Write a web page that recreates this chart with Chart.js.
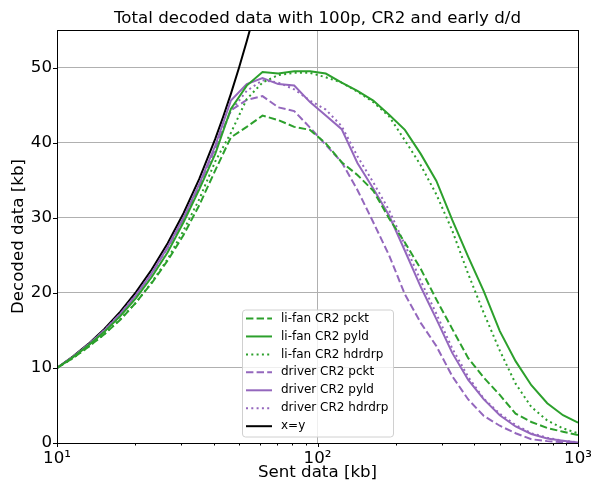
<!DOCTYPE html>
<html><head><meta charset="utf-8">
<script src="https://cdn.jsdelivr.net/npm/chart.js@4.4.0/dist/chart.umd.min.js"></script>
<style>html,body{margin:0;padding:0;background:#fff}</style>
</head><body>
<canvas id="c" width="591" height="484" style="width:591px;height:484px;display:block"></canvas>
<script>
// ---- data ----
const sent = [10, 11.5, 13.2, 15.2, 17.5, 20.1, 23.1, 26.6, 30.6, 35.2, 40.5, 46.5, 53.5, 61.5, 70.7, 81.4, 93.6, 107.6, 123.8, 142.3, 163.7, 188.3, 216.5, 249, 286, 329, 379, 435, 501, 576, 662, 762, 876, 1000];
const lifanPckt = [10, 11.3, 12.8, 14.5, 16.4, 18.7, 21.3, 24.3, 27.7, 31.7, 36.3, 40.7, 42.1, 43.6, 43.0, 42.1, 41.7, 39.9, 37.4, 35.7, 33.6, 29.9, 26.7, 23.2, 19.1, 15.2, 11.3, 8.7, 6.4, 3.9, 2.8, 2.0, 1.5, 1.06];
const lifanPyld = [10, 11.4, 13.0, 14.8, 16.9, 19.3, 22.1, 25.4, 29.4, 33.8, 38.5, 44.5, 47.6, 49.4, 49.2, 49.5, 49.5, 49.2, 48.0, 46.9, 45.6, 43.7, 41.7, 38.5, 34.9, 29.7, 24.8, 20.2, 14.9, 10.9, 7.7, 5.3, 3.7, 2.7];
const lifanHdrdrp = [10, 11.3, 12.8, 14.5, 16.5, 18.7, 21.4, 24.5, 28.3, 32.5, 37.5, 41.3, 45.8, 48.0, 49.0, 49.3, 49.3, 48.7, 48.0, 46.8, 45.4, 43.5, 40.3, 37.0, 33.1, 28.3, 22.5, 17.3, 12.3, 7.9, 4.8, 3.0, 1.95, 1.3];
const driverPckt = [10, 11.45, 13.1, 15.0, 17.2, 19.7, 22.6, 26.0, 29.9, 34.3, 39.3, 44.3, 45.7, 46.2, 44.7, 44.2, 42.0, 39.7, 37.4, 33.7, 29.4, 25.0, 19.8, 16.0, 12.9, 8.9, 5.8, 3.6, 2.3, 1.3, 0.5, 0.25, 0.1, 0];
const driverPyld = [10, 11.45, 13.1, 15.0, 17.2, 19.7, 22.6, 26.1, 30.0, 34.5, 39.6, 45.6, 47.8, 48.6, 47.8, 47.6, 45.4, 43.6, 41.8, 37.3, 33.9, 30.3, 25.6, 20.8, 16.5, 12.0, 8.4, 5.8, 3.7, 2.2, 1.2, 0.6, 0.3, 0.05];
const driverHdrdrp = [10, 11.45, 13.1, 15.0, 17.2, 19.7, 22.6, 26.0, 29.9, 34.3, 39.2, 44.2, 46.9, 48.3, 48.0, 47.1, 45.6, 44.4, 42.2, 38.2, 34.7, 31.0, 26.4, 21.6, 17.2, 12.6, 8.8, 5.9, 3.9, 2.4, 1.3, 0.7, 0.3, 0.1];
const identX = [10, 11.5, 13.2, 15.2, 17.5, 20.1, 23.1, 26.6, 30.6, 35.2, 40.5, 43.5, 46.5, 50, 53.5, 55];
const identY = [10, 11.5, 13.2, 15.2, 17.5, 20.1, 23.1, 26.6, 30.6, 35.2, 40.5, 43.5, 46.5, 50, 53.5, 55];
const xTickValues = [10, 20, 30, 40, 50, 60, 70, 80, 90, 100, 200, 300, 400, 500, 600, 700, 800, 900, 1000];
const xMajorLabels = {10: '10\u00b9', 100: '10\u00b2', 1000: '10\u00b3'};
const yTickValues = [0, 10, 20, 30, 40, 50];
const labels = ['li-fan CR2 pckt', 'li-fan CR2 pyld', 'li-fan CR2 hdrdrp', 'driver CR2 pckt', 'driver CR2 pyld', 'driver CR2 hdrdrp', 'x=y'];
const titleText = 'Total decoded data with 100p, CR2 and early d/d';

const GREEN = '#2ca02c', PURPLE = '#9467bd', BLACK = '#000000';
const DASH = [7.4, 3.2], DOT = [2, 3.3];
const pts = (xs, ys) => xs.map((x, i) => ({x: x, y: ys[i]}));

Chart.defaults.font.family = "'DejaVu Sans', sans-serif";
Chart.defaults.color = '#000';

const mk = (label, xs, ys, color, dash) => ({
  label, data: pts(xs, ys), borderColor: color, backgroundColor: color,
  borderWidth: 2, borderDash: dash, pointRadius: 0, tension: 0, fill: false
});

const datasets = [
  mk(labels[0], sent, lifanPckt, GREEN, DASH),
  mk(labels[1], sent, lifanPyld, GREEN, []),
  mk(labels[2], sent, lifanHdrdrp, GREEN, DOT),
  mk(labels[3], sent, driverPckt, PURPLE, DASH),
  mk(labels[4], sent, driverPyld, PURPLE, []),
  mk(labels[5], sent, driverHdrdrp, PURPLE, DOT),
  mk(labels[6], identX, identY, BLACK, [])
];

const decor = {
  id: 'decor',
  afterDatasetsDraw(chart) {
    const {ctx, chartArea: a, scales} = chart;
    ctx.save();
    // title centred over the plot area
    ctx.font = "16.67px 'DejaVu Sans'"; ctx.fillStyle = '#000';
    ctx.textAlign = 'center'; ctx.textBaseline = 'middle';
    ctx.fillText(titleText, (a.left + a.right) / 2, 18.5);
    // frame
    ctx.strokeStyle = '#000'; ctx.lineWidth = 1; ctx.setLineDash([]);
    ctx.strokeRect(Math.round(a.left) + 0.5, Math.round(a.top) + 0.5, Math.round(a.right - a.left), Math.round(a.bottom - a.top));
    // x ticks
    xTickValues.forEach(v => {
      const px = Math.round(scales.x.getPixelForValue(v)) + 0.5;
      const len = xMajorLabels[v] ? 4 : 2.5;
      ctx.beginPath(); ctx.moveTo(px, a.bottom); ctx.lineTo(px, a.bottom + len); ctx.stroke();
    });
    yTickValues.forEach(v => {
      const py = Math.round(scales.y.getPixelForValue(v)) + 0.5;
      ctx.beginPath(); ctx.moveTo(a.left, py); ctx.lineTo(a.left - 4, py); ctx.stroke();
    });
    // legend
    const lx = 242, ly = 309.5, lw = 151, lh = 127;
    ctx.beginPath();
    ctx.roundRect(lx + 0.5, ly + 0.5, lw, lh, 3);
    ctx.fillStyle = 'rgba(255,255,255,0.8)'; ctx.fill();
    ctx.strokeStyle = '#d0d0d0'; ctx.lineWidth = 1; ctx.stroke();
    ctx.font = "12px 'DejaVu Sans'"; ctx.textBaseline = 'middle'; ctx.textAlign = 'left';
    chart.data.datasets.forEach((ds, i) => {
      const y = 318.5 + i * 17.95;
      ctx.beginPath();
      ctx.strokeStyle = ds.borderColor; ctx.lineWidth = 2; ctx.setLineDash(ds.borderDash || []);
      ctx.moveTo(246, y); ctx.lineTo(272, y); ctx.stroke();
      ctx.setLineDash([]);
      ctx.fillStyle = '#000';
      ctx.fillText(ds.label, 281, y);
    });
    ctx.restore();
  }
};

new Chart(document.getElementById('c'), {
  type: 'line',
  data: {datasets},
  plugins: [decor],
  options: {
    responsive: false, animation: false, devicePixelRatio: 1,
    layout: {padding: {left: 0, right: 13, top: 30, bottom: 0}},
    plugins: {
      legend: {display: false},
      tooltip: {enabled: false},
      title: {display: false}
    },
    scales: {
      x: {
        type: 'logarithmic', min: 10, max: 1000,
        afterBuildTicks: s => { s.ticks = xTickValues.map(v => ({value: v, major: !!xMajorLabels[v]})); },
        afterFit: s => { s.height = 41; s.paddingLeft = 0; s.paddingRight = 0; },
        ticks: {autoSkip: false, maxRotation: 0, padding: 6, font: {size: 16.67},
          callback: v => xMajorLabels[v] || ''},
        grid: {drawTicks: false, lineWidth: 1,
          color: c => (c.tick && c.tick.value === 100) ? '#b0b0b0' : 'rgba(0,0,0,0)'},
        border: {display: false},
        title: {display: true, text: 'Sent data [kb]', font: {size: 16.67, lineHeight: 1.2}, padding: {top: 0, bottom: 1}}
      },
      y: {
        type: 'linear', min: 0, max: 55,
        afterBuildTicks: s => { s.ticks = yTickValues.map(v => ({value: v})); },
        afterFit: s => { s.width = 57; s.paddingTop = 0; s.paddingBottom = 0; },
        ticks: {padding: 5, font: {size: 16.67}},
        grid: {drawTicks: false, lineWidth: 1,
          color: c => (c.tick && c.tick.value > 0) ? '#b0b0b0' : 'rgba(0,0,0,0)'},
        border: {display: false},
        title: {display: true, text: 'Decoded data [kb]', font: {size: 16.67, lineHeight: 1.2}, padding: {top: 9, bottom: 0}}
      }
    }
  }
});
</script>
</body></html>
